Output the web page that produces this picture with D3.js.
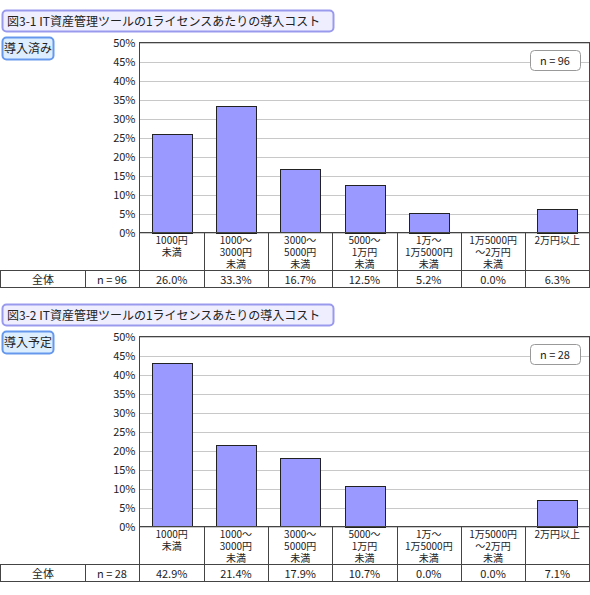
<!DOCTYPE html>
<html><head><meta charset="utf-8">
<script src="https://cdn.jsdelivr.net/npm/d3@7"></script>
<style>body{margin:0;background:#fff}text{font-family:"Noto Sans CJK JP",sans-serif;fill:#222}</style>
</head><body>
<svg id="c" width="590" height="595"></svg>
<script>
var categories = [["1000円","未満"],["1000～","3000円","未満"],["3000～","5000円","未満"],["5000～","1万円","未満"],["1万～","1万5000円","未満"],["1万5000円","～2万円","未満"],["2万円以上"]];
var values1 = [26.0, 33.3, 16.7, 12.5, 5.2, 0.0, 6.3];
var values2 = [42.9, 21.4, 17.9, 10.7, 0.0, 0.0, 7.1];
var titles = ["図3-1 IT資産管理ツールの1ライセンスあたりの導入コスト","図3-2 IT資産管理ツールの1ライセンスあたりの導入コスト"];
var labels = ["導入済み","導入予定"];
var nValues = [96, 28];
var yTicks = [0,5,10,15,20,25,30,35,40,45,50];

var svg = d3.select("#c");

function drawChart(top, title, label, n, values){
  var g = svg.append("g").attr("transform","translate(0,"+top+")");
  // title box
  g.append("rect").attr("x",2.5).attr("y",10.5).attr("width",331).attr("height",21).attr("rx",4)
    .attr("fill","#eeeeff").attr("stroke","#9999ee").attr("stroke-width",2);
  g.append("text").attr("x",7).attr("y",26).attr("font-size",12).text(title);
  g.append("rect").attr("x",2.5).attr("y",37.5).attr("width",51).attr("height",22).attr("rx",4)
    .attr("fill","#ddeeff").attr("stroke","#6699ee").attr("stroke-width",2);
  g.append("text").attr("x",28).attr("y",53).attr("text-anchor","middle").attr("font-size",12).text(label);

  var x0 = 139.5, x1 = 589.5, yTop = 42.5, yBot = 232.5;
  var x = d3.scaleBand().domain(d3.range(values.length)).range([x0,x1]);
  var y = d3.scaleLinear().domain([0,50]).range([yBot,yTop]);

  g.selectAll(".grid").data(yTicks).enter().append("line")
    .attr("x1",x0).attr("x2",x1).attr("y1",function(d){return Math.round(y(d))+0.5;}).attr("y2",function(d){return Math.round(y(d))+0.5;})
    .attr("stroke","#c8c8c8");
  g.selectAll(".yl").data(yTicks).enter().append("text")
    .attr("x",x0-4).attr("y",function(d){return y(d)+4;}).attr("text-anchor","end").attr("font-size",11)
    .text(function(d){return d+"%";});

  var bw = 40;
  values.forEach(function(d,i){
    if (d <= 0) return;
    g.append("rect")
      .attr("x",Math.round(x(i)+(x.bandwidth()-bw)/2)+0.5)
      .attr("y",Math.round(y(d))+0.5)
      .attr("width",bw).attr("height",Math.round(yBot-y(d)))
      .attr("fill","#9999ff").attr("stroke","#222");
  });
  g.append("rect").attr("x",x0).attr("y",yTop).attr("width",x1-x0).attr("height",yBot-yTop)
    .attr("fill","none").attr("stroke","#444");

  // n box
  g.append("rect").attr("x",530.5).attr("y",50.5).attr("width",50).attr("height",20).attr("rx",4)
    .attr("fill","#fff").attr("stroke","#999");
  g.append("text").attr("x",555).attr("y",65).attr("text-anchor","middle").attr("font-size",11).text("n = "+n);

  // category labels and table
  var tTop = 270.5, tBot = 287.5;
  categories.forEach(function(c,i){
    var cx = x(i)+x.bandwidth()/2;
    c.forEach(function(line,j){
      g.append("text").attr("x",cx).attr("y",yBot+11+j*12).attr("text-anchor","middle").attr("font-size",10).text(line);
    });
    g.append("line").attr("x1",Math.round(x(i))+0.5).attr("x2",Math.round(x(i))+0.5).attr("y1",yBot).attr("y2",tBot).attr("stroke","#444");
    g.append("text").attr("x",cx).attr("y",tTop+13).attr("text-anchor","middle").attr("font-size",11).text(values[i].toFixed(1)+"%");
  });
  g.append("line").attr("x1",x1).attr("x2",x1).attr("y1",yBot).attr("y2",tBot).attr("stroke","#444");
  g.append("rect").attr("x",0.5).attr("y",tTop).attr("width",589).attr("height",tBot-tTop).attr("fill","none").attr("stroke","#444");
  g.append("line").attr("x1",85.5).attr("x2",85.5).attr("y1",tTop).attr("y2",tBot).attr("stroke","#444");
  g.append("text").attr("x",43).attr("y",tTop+13).attr("text-anchor","middle").attr("font-size",11).text("全体");
  g.append("text").attr("x",112).attr("y",tTop+13).attr("text-anchor","middle").attr("font-size",11).text("n = "+n);
}

drawChart(0, titles[0], labels[0], nValues[0], values1);
drawChart(294, titles[1], labels[1], nValues[1], values2);
</script>
</body></html>
